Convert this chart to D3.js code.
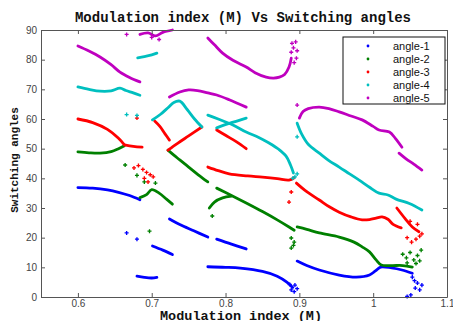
<!DOCTYPE html>
<html><head><meta charset="utf-8">
<script src="https://cdn.jsdelivr.net/npm/d3@7/dist/d3.min.js"></script>
<style>
html,body{margin:0;padding:0;background:#fff;overflow:hidden}
svg{display:block}
</style></head>
<body>
<script>
// ---------- data ----------
const seriesNames = ["angle-1","angle-2","angle-3","angle-4","angle-5"];
const xTicks = [0.6,0.7,0.8,0.9,1.0,1.1];
const xTickLabels = ["0.6","0.7","0.8","0.9","1","1.1"];
const yTicks = [0,10,20,30,40,50,60,70,80,90];

// angle-1 (blue)
const angle1Segments = [
  [[0.6,36.9],[0.62,36.7],[0.64,36.1],[0.655,35.3],[0.67,34.2],[0.684,32.8]],
  [[0.68,7.0],[0.69,6.6],[0.7,6.4],[0.707,6.6]],
  [[0.701,17.2],[0.715,15.8],[0.728,14.3]],
  [[0.724,26.3],[0.738,24.4],[0.757,22.3],[0.776,20.2]],
  [[0.788,19.5],[0.808,17.8],[0.828,16.2]],
  [[0.776,10.2],[0.8,10.0],[0.82,9.7],[0.85,8.6],[0.87,7.0],[0.883,5.0],[0.891,3.2]],
  [[0.897,12.1],[0.91,10.6],[0.927,9.1],[0.954,7.4],[0.977,6.7],[0.995,7.4],[1.003,8.8],[1.01,10.1],[1.025,9.8],[1.039,9.1],[1.053,8.0]]
];
const angle1Scatter = [[0.666,21.6],[0.68,19.5],[0.887,4.2],[0.889,2.4],[0.893,1.8],[0.897,2.8],[0.894,4.0],
  [1.053,6.7],[1.06,4.7],[1.057,3.0],[1.063,2.4],[1.066,4.0],[1.051,0.7],[1.046,0.2],[1.056,5.5]];

// angle-2 (green)
const angle2Segments = [
  [[0.6,48.9],[0.615,48.6],[0.63,48.5],[0.645,49.0],[0.655,50.0],[0.663,51.0]],
  [[0.684,33.5],[0.693,34.5],[0.7,36.2],[0.71,35.0],[0.72,33.0],[0.728,31.3]],
  [[0.722,49.5],[0.73,47.8],[0.738,46.2],[0.75,43.8],[0.763,41.2],[0.776,38.8]],
  [[0.788,36.7],[0.81,34.0],[0.828,31.7],[0.85,28.8],[0.87,26.0],[0.886,23.6],[0.893,22.5]],
  [[0.778,30.0],[0.785,32.0],[0.796,33.4],[0.808,34.0]],
  [[0.897,23.6],[0.91,22.8],[0.927,21.6],[0.954,20.2],[0.974,18.5],[0.985,16.9],[0.995,15.2],[1.004,12.5],[1.011,10.8],[1.025,10.6],[1.04,10.6],[1.053,10.1]]
];
const angle2Scatter = [[0.664,44.5],[0.68,41.0],[0.69,38.8],[0.697,22.2],[0.705,38.4],[0.782,27.3],
  [0.889,19.9],[0.893,18.5],[0.889,16.5],[0.892,17.4],
  [1.046,11.5],[1.05,15.0],[1.055,12.5],[1.06,14.0],[1.065,15.8],[1.063,12.2],[1.058,11.3],[1.04,14.4],[1.045,13.2]];

// angle-3 (red)
const angle3Segments = [
  [[0.6,60.0],[0.62,58.8],[0.64,56.5],[0.655,53.5],[0.663,51.3]],
  [[0.663,51.3],[0.675,50.8],[0.687,50.5]],
  [[0.704,59.3],[0.711,57.5],[0.718,55.0],[0.724,52.9]],
  [[0.722,49.5],[0.735,51.8],[0.75,54.3],[0.768,57.3]],
  [[0.788,56.3],[0.8,54.5],[0.815,52.3],[0.828,50.0]],
  [[0.776,43.8],[0.79,42.6],[0.805,41.5],[0.83,40.8],[0.85,40.4],[0.87,39.9],[0.886,39.4],[0.893,40.2]],
  [[0.896,38.4],[0.91,35.5],[0.927,32.7],[0.94,30.5],[0.954,28.6],[0.97,27.0],[0.985,26.0],[0.995,26.1],[1.004,26.6],[1.012,27.0],[1.02,26.2],[1.027,24.5],[1.038,23.3]],
  [[1.032,30.0],[1.043,26.5],[1.053,23.6],[1.062,22.0]]
];
const angle3Scatter = [[0.68,60.3],[0.676,43.5],[0.682,44.3],[0.688,43.0],[0.693,42.0],[0.698,41.2],[0.702,40.5],[0.69,40.0],[0.695,38.8],
  [0.889,35.4],[0.886,32.0],[1.046,20.0],[1.052,18.5],[1.058,19.5],[1.063,20.5],[1.06,24.5],[1.066,21.3],[1.05,25.5]];

// angle-4 (cyan)
const angle4Segments = [
  [[0.6,70.8],[0.615,70.0],[0.63,69.4],[0.645,69.5],[0.657,70.4],[0.665,69.6],[0.675,68.8],[0.684,68.0]],
  [[0.681,80.6],[0.69,81.0],[0.7,81.6],[0.707,82.2]],
  [[0.701,59.7],[0.712,61.6],[0.722,63.8],[0.73,65.6],[0.738,66.0],[0.748,63.2],[0.758,60.0],[0.768,57.3]],
  [[0.788,57.0],[0.805,58.5],[0.828,60.3]],
  [[0.776,61.3],[0.79,60.0],[0.81,58.0],[0.828,55.6],[0.845,53.8],[0.859,51.9],[0.872,49.8],[0.882,47.5],[0.888,44.5],[0.892,41.8]],
  [[0.897,58.6],[0.903,55.0],[0.912,51.5],[0.927,48.5],[0.94,46.0],[0.954,43.8],[0.968,41.5],[0.981,39.4],[0.995,37.0],[1.008,35.0],[1.02,34.4],[1.031,33.0],[1.049,31.5],[1.066,29.3]]
];
const angle4Scatter = [[0.666,61.5],[0.68,61.2],[0.894,40.5],[0.897,41.5],[0.891,40.0],[0.897,54.0]];

// angle-5 (magenta)
const angle5Segments = [
  [[0.6,84.6],[0.615,82.9],[0.63,80.9],[0.645,78.3],[0.657,75.8],[0.67,74.0],[0.684,72.5]],
  [[0.684,88.5],[0.695,89.0],[0.705,88.0],[0.715,89.2],[0.728,90.0]],
  [[0.724,67.4],[0.738,69.1],[0.75,69.8],[0.762,69.6],[0.776,68.8],[0.788,68.1],[0.805,66.5],[0.828,64.0]],
  [[0.776,87.3],[0.785,85.0],[0.796,82.2],[0.81,79.8],[0.828,77.5],[0.84,75.6],[0.855,74.1],[0.865,73.8],[0.873,74.1],[0.88,75.0],[0.886,77.5],[0.889,80.5]],
  [[0.9,60.3],[0.905,62.5],[0.912,63.5],[0.927,64.0],[0.94,63.5],[0.954,62.4],[0.97,61.0],[0.985,59.7],[1.0,57.5],[1.008,56.3],[1.022,55.6],[1.03,53.5],[1.039,50.5]],
  [[1.035,48.5],[1.045,46.5],[1.055,44.8],[1.066,42.8]]
];
const angle5Scatter = [[0.666,88.5],[0.7,87.5],[0.71,86.8],[0.889,82.5],[0.892,84.0],[0.895,86.0],[0.89,85.5],[0.896,80.5],[0.893,79.0],[0.897,83.0],[0.897,64.7]];

const colors = ["#0000ff","#008000","#ff0000","#00bfbf","#bf00bf"];

// ---------- chart ----------
const W = 453, H = 321;
const svg = d3.select("body").append("svg").attr("width",W).attr("height",H);
const x = d3.scaleLinear().domain([0.55,1.1]).range([41,447]);
const y = d3.scaleLinear().domain([0,90]).range([297,30]);

const series = [
  {segs: angle1Segments, pts: angle1Scatter},
  {segs: angle2Segments, pts: angle2Scatter},
  {segs: angle3Segments, pts: angle3Scatter},
  {segs: angle4Segments, pts: angle4Scatter},
  {segs: angle5Segments, pts: angle5Scatter}
];

const line = d3.line().x(d=>x(d[0])).y(d=>y(d[1])).curve(d3.curveCatmullRom.alpha(0.5));
const plus = d3.symbol().type(d3.symbolCross).size(9);

const plot = svg.append("g");
series.forEach((s,i)=>{
  const g = plot.append("g");
  g.selectAll("path.seg").data(s.segs).join("path")
    .attr("class","seg").attr("d",line)
    .attr("fill","none").attr("stroke",colors[i])
    .attr("stroke-width",2.8).attr("stroke-linecap","round").attr("stroke-linejoin","round");
  g.selectAll("path.pt").data(s.pts).join("path")
    .attr("class","pt").attr("d",plus)
    .attr("transform",d=>`translate(${x(d[0])},${y(d[1])})`)
    .attr("fill",colors[i]);
});

// axes
const axisColor = "#555";
const tickFont = "Liberation Sans, Arial, sans-serif";
const xAxis = svg.append("g").attr("transform","translate(0,297)")
  .call(d3.axisBottom(x).tickValues(xTicks).tickFormat((d,i)=>xTickLabels[i]).tickSizeInner(-4).tickSizeOuter(0).tickPadding(3));
const yAxis = svg.append("g").attr("transform","translate(41,0)")
  .call(d3.axisLeft(y).tickValues(yTicks).tickFormat(d3.format("d")).tickSizeInner(-4).tickSizeOuter(0).tickPadding(4));
const xAxisTop = svg.append("g").attr("transform","translate(0,30)")
  .call(d3.axisTop(x).tickValues(xTicks).tickFormat("").tickSizeInner(-4).tickSizeOuter(0));
const yAxisRight = svg.append("g").attr("transform","translate(447,0)")
  .call(d3.axisRight(y).tickValues(yTicks).tickFormat("").tickSizeInner(-4).tickSizeOuter(0));
[xAxis,yAxis,xAxisTop,yAxisRight].forEach(a=>{
  a.select(".domain").attr("stroke",axisColor).attr("stroke-width",1);
  a.selectAll(".tick line").attr("stroke",axisColor);
  a.selectAll(".tick text").attr("fill","#444").attr("font-family",tickFont).attr("font-size",10);
});

// titles
const monoFont = "Liberation Mono, Courier New, monospace";
svg.append("text").attr("x",243).attr("y",22).attr("text-anchor","middle")
  .attr("font-family",monoFont).attr("font-weight","bold").attr("font-size",14)
  .attr("fill","#111").text("Modulation index (M) Vs Switching angles");
svg.append("text").attr("x",241).attr("y",320).attr("text-anchor","middle")
  .attr("font-family",monoFont).attr("font-weight","bold").attr("font-size",13.5)
  .attr("fill","#111").text("Modulation index (M)");
svg.append("text").attr("transform","translate(18,160) rotate(-90)").attr("text-anchor","middle")
  .attr("font-family",monoFont).attr("font-weight","bold").attr("font-size",11)
  .attr("fill","#111").text("Switching angles");

// legend
const lg = svg.append("g");
lg.append("rect").attr("x",343).attr("y",37).attr("width",102).attr("height",67)
  .attr("fill","#fff").attr("stroke","#111").attr("stroke-width",1);
seriesNames.forEach((n,i)=>{
  const yy = 46 + i*13;
  lg.append("circle").attr("cx",368).attr("cy",yy).attr("r",1.4).attr("fill",colors[i]);
  lg.append("text").attr("x",393).attr("y",yy+4).attr("font-family",tickFont).attr("font-size",11)
    .attr("fill","#111").text(n);
});
</script>
</body></html>
